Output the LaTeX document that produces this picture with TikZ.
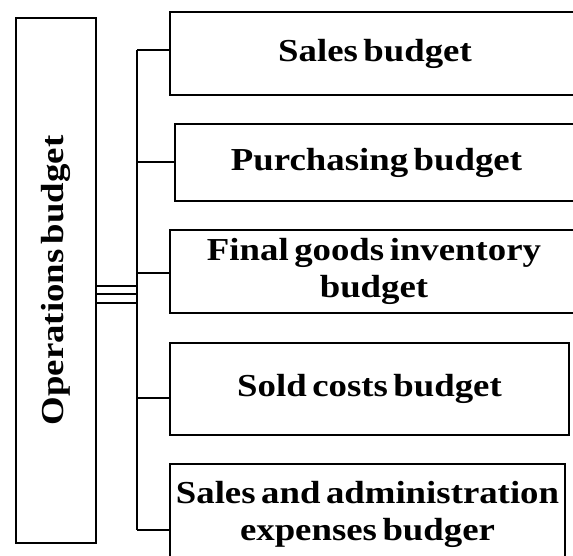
\documentclass[tikz,border=0pt]{standalone}
\usepackage{fontspec}
\newfontfamily\budgetfont[FakeStretch=1.15, WordSpace=0.6]{Liberation Serif}
\tikzset{
    budgetbox/.style={draw, line width=2.6pt, inner sep=0pt, align=center,
        font=\budgetfont\bfseries\fontsize{32}{37}\selectfont},
    conn/.style={line width=1.7pt}
}
\begin{document}
\begin{tikzpicture}[x=1pt, y=-1pt]
    \useasboundingbox (0,0) rectangle (573,556);
    \clip (0,0) rectangle (573,556);
    \node[budgetbox, rotate=90, minimum width=525pt, minimum height=80pt] (ops) at (56,280.5) {Operations budget};
    \node[budgetbox, minimum width=410pt, minimum height=83pt] (sales) at (375,53.5) {Sales budget};
    \node[budgetbox, minimum width=403pt, minimum height=77pt] (purch) at (376.5,162.5) {Purchasing budget};
    \node[budgetbox, minimum width=408pt, minimum height=83pt] (fingoods) at (374,271.5) {Final goods inventory\\budget};
    \node[budgetbox, minimum width=399pt, minimum height=92pt] (soldcost) at (369.5,389) {Sold costs budget};
    \node[budgetbox, minimum width=395pt, minimum height=100pt] (salesadm) at (367.5,514) {Sales and administration\\expenses budger};
    % trunk
    \coordinate (trunktop) at (137,50);
    \coordinate (trunkbot) at (137,530);
    \draw[conn] (trunktop) -- (trunkbot);
    \draw[line width=2.9pt] (137,153) -- (137,290);
    \foreach \n/\y in {sales/50, purch/162, fingoods/273, soldcost/398, salesadm/530} {
        \draw[conn] (trunktop |- 0,\y) -- (\n.west |- 0,\y);
    }
    % triple link
    \foreach \y in {286, 294, 303} {
        \draw[conn] (ops.south |- 0,\y) -- (trunktop |- 0,\y);
    }
\end{tikzpicture}
\end{document}
